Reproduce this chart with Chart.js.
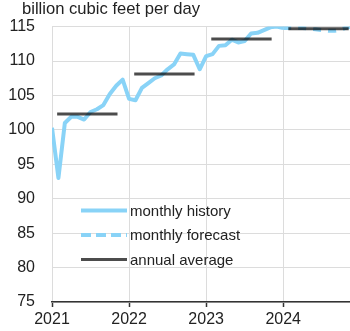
<!DOCTYPE html>
<html>
<head>
<meta charset="utf-8">
<script src="https://cdn.jsdelivr.net/npm/chart.js@4.4.0/dist/chart.umd.min.js"></script>
<style>
  html, body { margin: 0; padding: 0; background: #fff; }
  #wrap { width: 350px; height: 331px; }
</style>
</head>
<body>
<div id="wrap"><canvas id="gas-chart" width="350" height="331"></canvas></div>
<script>
// x axis is in months counted from Jan 2021, one labelled tick per year
const years = ['2021', '2022', '2023', '2024'];

// monthly history, Jan 2021 .. Jan 2024
const historyValues = [
  100.3, 93.0, 101.0, 101.9, 101.9, 101.5, 102.6, 103.0, 103.6, 105.2, 106.4, 107.3,
  104.5, 104.3, 106.1, 106.8, 107.5, 107.9, 108.8, 109.5, 111.1, 111.0, 110.9, 108.8,
  110.7, 111.0, 112.2, 112.3, 113.1, 112.7, 112.9, 114.0, 114.1, 114.5, 114.9, 115.0,
  114.8
];

// monthly forecast, Jan 2024 .. Dec 2024
const forecastValues = [
  114.8, 114.8, 114.8, 114.8, 114.7, 114.6, 114.5, 114.4, 114.4, 114.6, 114.9, 115.0
];

// annual averages 2021 .. 2024
const annualValues = [102.3, 108.1, 113.2, 114.7];

const yTicks = [75, 80, 85, 90, 95, 100, 105, 110, 115];

const BLUE = '#89d3f7';
const DARK = 'rgba(0,0,0,0.7)';
const FONT = '"Liberation Sans", Arial, sans-serif';

const forecastStart = historyValues.length - 1;
const historyPts = historyValues.map((v, i) => ({ x: i, y: v }));
const forecastPts = forecastValues.map((v, i) => ({ x: forecastStart + i, y: v }));
const annualPts = [];
annualValues.forEach((v, i) => {
  annualPts.push({ x: i * 12 + 0.8, y: v });
  annualPts.push({ x: i * 12 + 10.2, y: v });
  annualPts.push({ x: i * 12 + 11, y: null });
});

// legend drawn inside the plot, lower left
const insideLegend = {
  id: 'insideLegend',
  afterDraw(chart) {
    const ctx = chart.ctx;
    const a = chart.chartArea;
    ctx.save();
    ctx.font = '15px ' + FONT;
    ctx.textBaseline = 'middle';
    chart.data.datasets.forEach((ds, i) => {
      const y = a.top + 184 + i * 24.5;
      ctx.beginPath();
      ctx.strokeStyle = ds.borderColor;
      ctx.lineWidth = ds.borderWidth;
      ctx.setLineDash(ds.legendDash || []);
      ctx.moveTo(a.left + 29, y);
      ctx.lineTo(a.left + 75, y);
      ctx.stroke();
      ctx.setLineDash([]);
      ctx.fillStyle = '#222';
      ctx.fillText(ds.label, a.left + 78, y + 1);
    });
    ctx.restore();
  }
};

// unit label top left
const unitTitle = {
  id: 'unitTitle',
  afterDraw(chart) {
    const ctx = chart.ctx;
    ctx.save();
    ctx.font = '16.6px ' + FONT;
    ctx.fillStyle = '#222';
    ctx.textBaseline = 'alphabetic';
    ctx.fillText('billion cubic feet per day', 22, 14);
    ctx.restore();
  }
};

new Chart('gas-chart', {
  type: 'line',
  data: {
    datasets: [
      {
        label: 'monthly history',
        data: historyPts,
        borderColor: BLUE,
        borderWidth: 4,
        order: 1
      },
      {
        label: 'monthly forecast',
        data: forecastPts,
        borderColor: BLUE,
        borderWidth: 4,
        borderDash: [8, 7],
        legendDash: [10, 5],
        order: 2
      },
      {
        label: 'annual average',
        data: annualPts,
        borderColor: DARK,
        borderWidth: 3,
        spanGaps: false,
        order: 0
      }
    ]
  },
  options: {
    responsive: false,
    animation: false,
    layout: { padding: { top: 25, right: 0, left: 0, bottom: 0 } },
    elements: {
      point: { radius: 0 },
      line: { tension: 0, borderCapStyle: 'butt', borderJoinStyle: 'round' }
    },
    plugins: { legend: { display: false }, tooltip: { enabled: false } },
    scales: {
      x: {
        type: 'linear',
        min: 0,
        max: 46.4,
        afterFit: (s) => { s.height = 29; },
        grid: { color: '#dcdcdc', lineWidth: 1, drawTicks: true, tickLength: 5, tickColor: '#333', tickWidth: 1.5 },
        border: { color: '#333', width: 1.5 },
        ticks: {
          stepSize: 12,
          includeBounds: false,
          autoSkip: false,
          maxRotation: 0,
          padding: 3,
          color: '#222',
          font: { family: FONT, size: 16 },
          callback: (v) => years[v / 12]
        }
      },
      y: {
        min: 75,
        max: 115,
        afterFit: (s) => { s.width = 52; },
        grid: { color: '#dcdcdc', lineWidth: 1, drawTicks: false },
        border: { display: false },
        ticks: {
          stepSize: 5,
          padding: 17,
          color: '#222',
          font: { family: FONT, size: 16 },
          callback: (v) => yTicks.includes(v) ? String(v) : ''
        }
      }
    }
  },
  plugins: [insideLegend, unitTitle]
});
</script>
</body>
</html>
